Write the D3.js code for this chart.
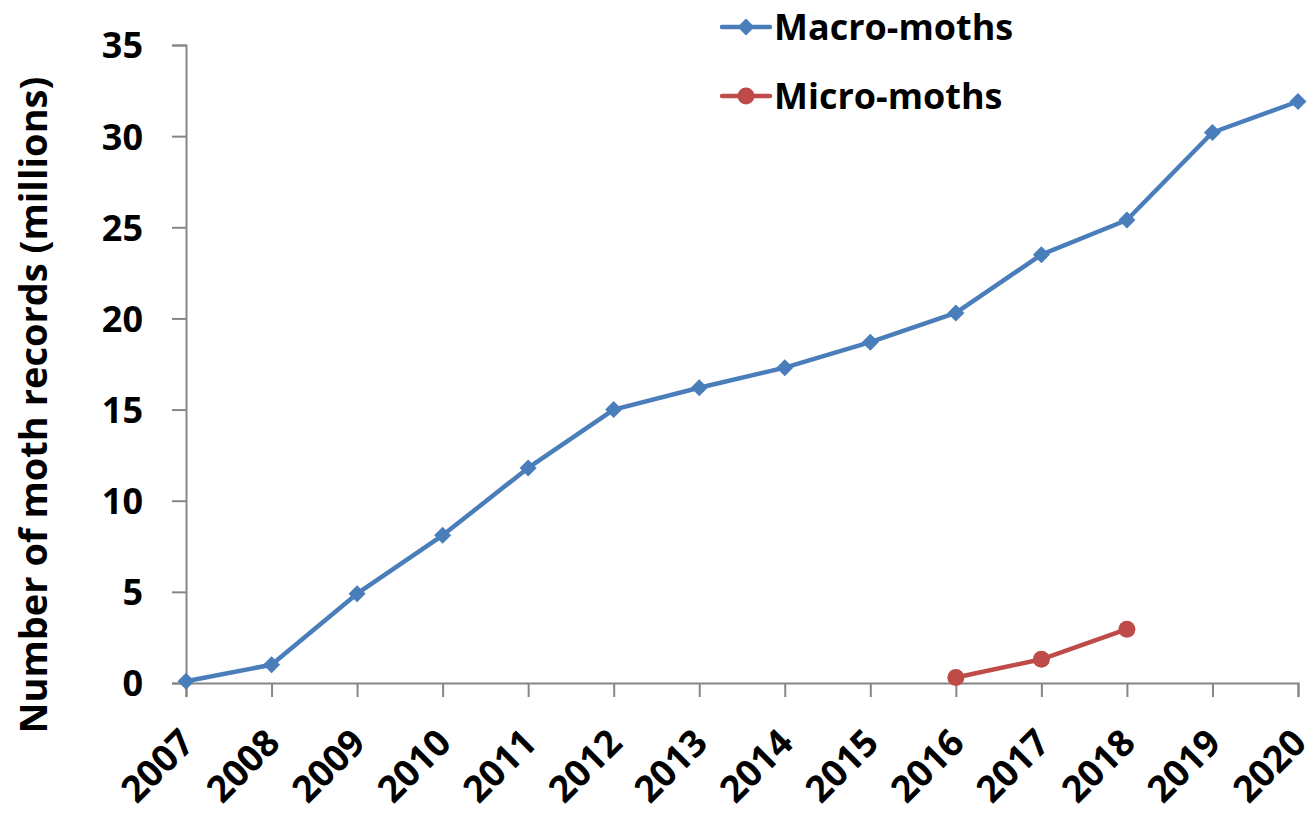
<!DOCTYPE html>
<html>
<head>
<meta charset="utf-8">
<script src="https://cdn.jsdelivr.net/npm/d3@7"></script>
<style>
  body { margin: 0; background: #fff; }
  text { font-family: "Open Sans", Lato, sans-serif; font-weight: bold; fill: #000; }
</style>
</head>
<body>
<div id="chart"></div>
<script>
// data (millions of records)
const years = [2007, 2008, 2009, 2010, 2011, 2012, 2013, 2014, 2015, 2016, 2017, 2018, 2019, 2020];
const macroValues = [0.1, 1.0, 4.9, 8.1, 11.8, 15.0, 16.2, 17.3, 18.7, 20.3, 23.5, 25.4, 30.2, 31.9];
const microYears = [2016, 2017, 2018];
const microValues = [0.3, 1.3, 2.95];
const yTicks = [0, 5, 10, 15, 20, 25, 30, 35];
const seriesNames = ["Macro-moths", "Micro-moths"];

const w = 1316, h = 815;
const margin = { top: 45, right: 18, bottom: 132, left: 186 };
const blue = "#4a7ebb", red = "#be4b48", axisGrey = "#868686";

const svg = d3.select("#chart").append("svg")
  .attr("width", w)
  .attr("height", h);

const xScale = d3.scaleLinear()
  .domain([2007, 2020])
  .range([margin.left, w - margin.right]);

const yScale = d3.scaleLinear()
  .domain([0, 35])
  .range([h - margin.bottom, margin.top]);

// y axis
const yAxis = d3.axisLeft(yScale).tickValues(yTicks).tickSize(14).tickPadding(29);
const gy = svg.append("g")
  .attr("transform", "translate(" + margin.left + ",0)")
  .call(yAxis);
gy.select(".domain").attr("stroke", axisGrey).attr("stroke-width", 2);
gy.selectAll(".tick line").attr("stroke", axisGrey).attr("stroke-width", 2);
gy.selectAll(".tick text").style("font-size", "36px").attr("dy", "0.36em");

// x axis
const xAxis = d3.axisBottom(xScale).tickValues(years).tickFormat(d3.format("d")).tickSize(14);
const gx = svg.append("g")
  .attr("transform", "translate(0," + (h - margin.bottom) + ")")
  .call(xAxis);
gx.select(".domain").attr("stroke", axisGrey).attr("stroke-width", 2);
gx.selectAll(".tick line").attr("stroke", axisGrey).attr("stroke-width", 2);
gx.selectAll(".tick text")
  .style("font-size", "37px")
  .attr("text-anchor", "end")
  .attr("dy", null)
  .attr("y", 0)
  .attr("transform", "translate(10,62) rotate(-45)");

// y title
svg.append("text")
  .attr("transform", "translate(47,405) rotate(-90)")
  .attr("text-anchor", "middle")
  .style("font-size", "38px")
  .text("Number of moth records (millions)");

const line = d3.line()
  .x(d => xScale(d[0]))
  .y(d => yScale(d[1]));

const macro = years.map((y, i) => [y, macroValues[i]]);
const micro = microYears.map((y, i) => [y, microValues[i]]);

const diamond = "M0,-8.5L8.5,0L0,8.5L-8.5,0Z";

svg.append("path")
  .datum(macro)
  .attr("fill", "none")
  .attr("stroke", blue)
  .attr("stroke-width", 4.5)
  .attr("stroke-linejoin", "round")
  .attr("d", line);

svg.selectAll(".macro-pt")
  .data(macro)
  .enter()
  .append("path")
  .attr("class", "macro-pt")
  .attr("d", diamond)
  .attr("fill", blue)
  .attr("transform", d => "translate(" + xScale(d[0]) + "," + yScale(d[1]) + ")");

svg.append("path")
  .datum(micro)
  .attr("fill", "none")
  .attr("stroke", red)
  .attr("stroke-width", 4.5)
  .attr("d", line);

svg.selectAll(".micro-pt")
  .data(micro)
  .enter()
  .append("circle")
  .attr("class", "micro-pt")
  .attr("r", 8.5)
  .attr("fill", red)
  .attr("cx", d => xScale(d[0]))
  .attr("cy", d => yScale(d[1]));

// legend
const legend = svg.selectAll(".legend")
  .data(seriesNames)
  .enter()
  .append("g")
  .attr("class", "legend")
  .attr("transform", (d, i) => "translate(722," + (27 + i * 69) + ")");

legend.append("line")
  .attr("x1", 0).attr("x2", 48)
  .attr("stroke", (d, i) => i == 0 ? blue : red)
  .attr("stroke-width", 4.5)
  .attr("stroke-linecap", "round");

legend.filter((d, i) => i == 0).append("path")
  .attr("d", diamond)
  .attr("fill", blue)
  .attr("transform", "translate(24,0)");

legend.filter((d, i) => i == 1).append("circle")
  .attr("cx", 24)
  .attr("r", 8.5)
  .attr("fill", red);

legend.append("text")
  .attr("x", 52)
  .attr("dy", "0.36em")
  .style("font-size", "36px")
  .text(d => d);
</script>
</body>
</html>
